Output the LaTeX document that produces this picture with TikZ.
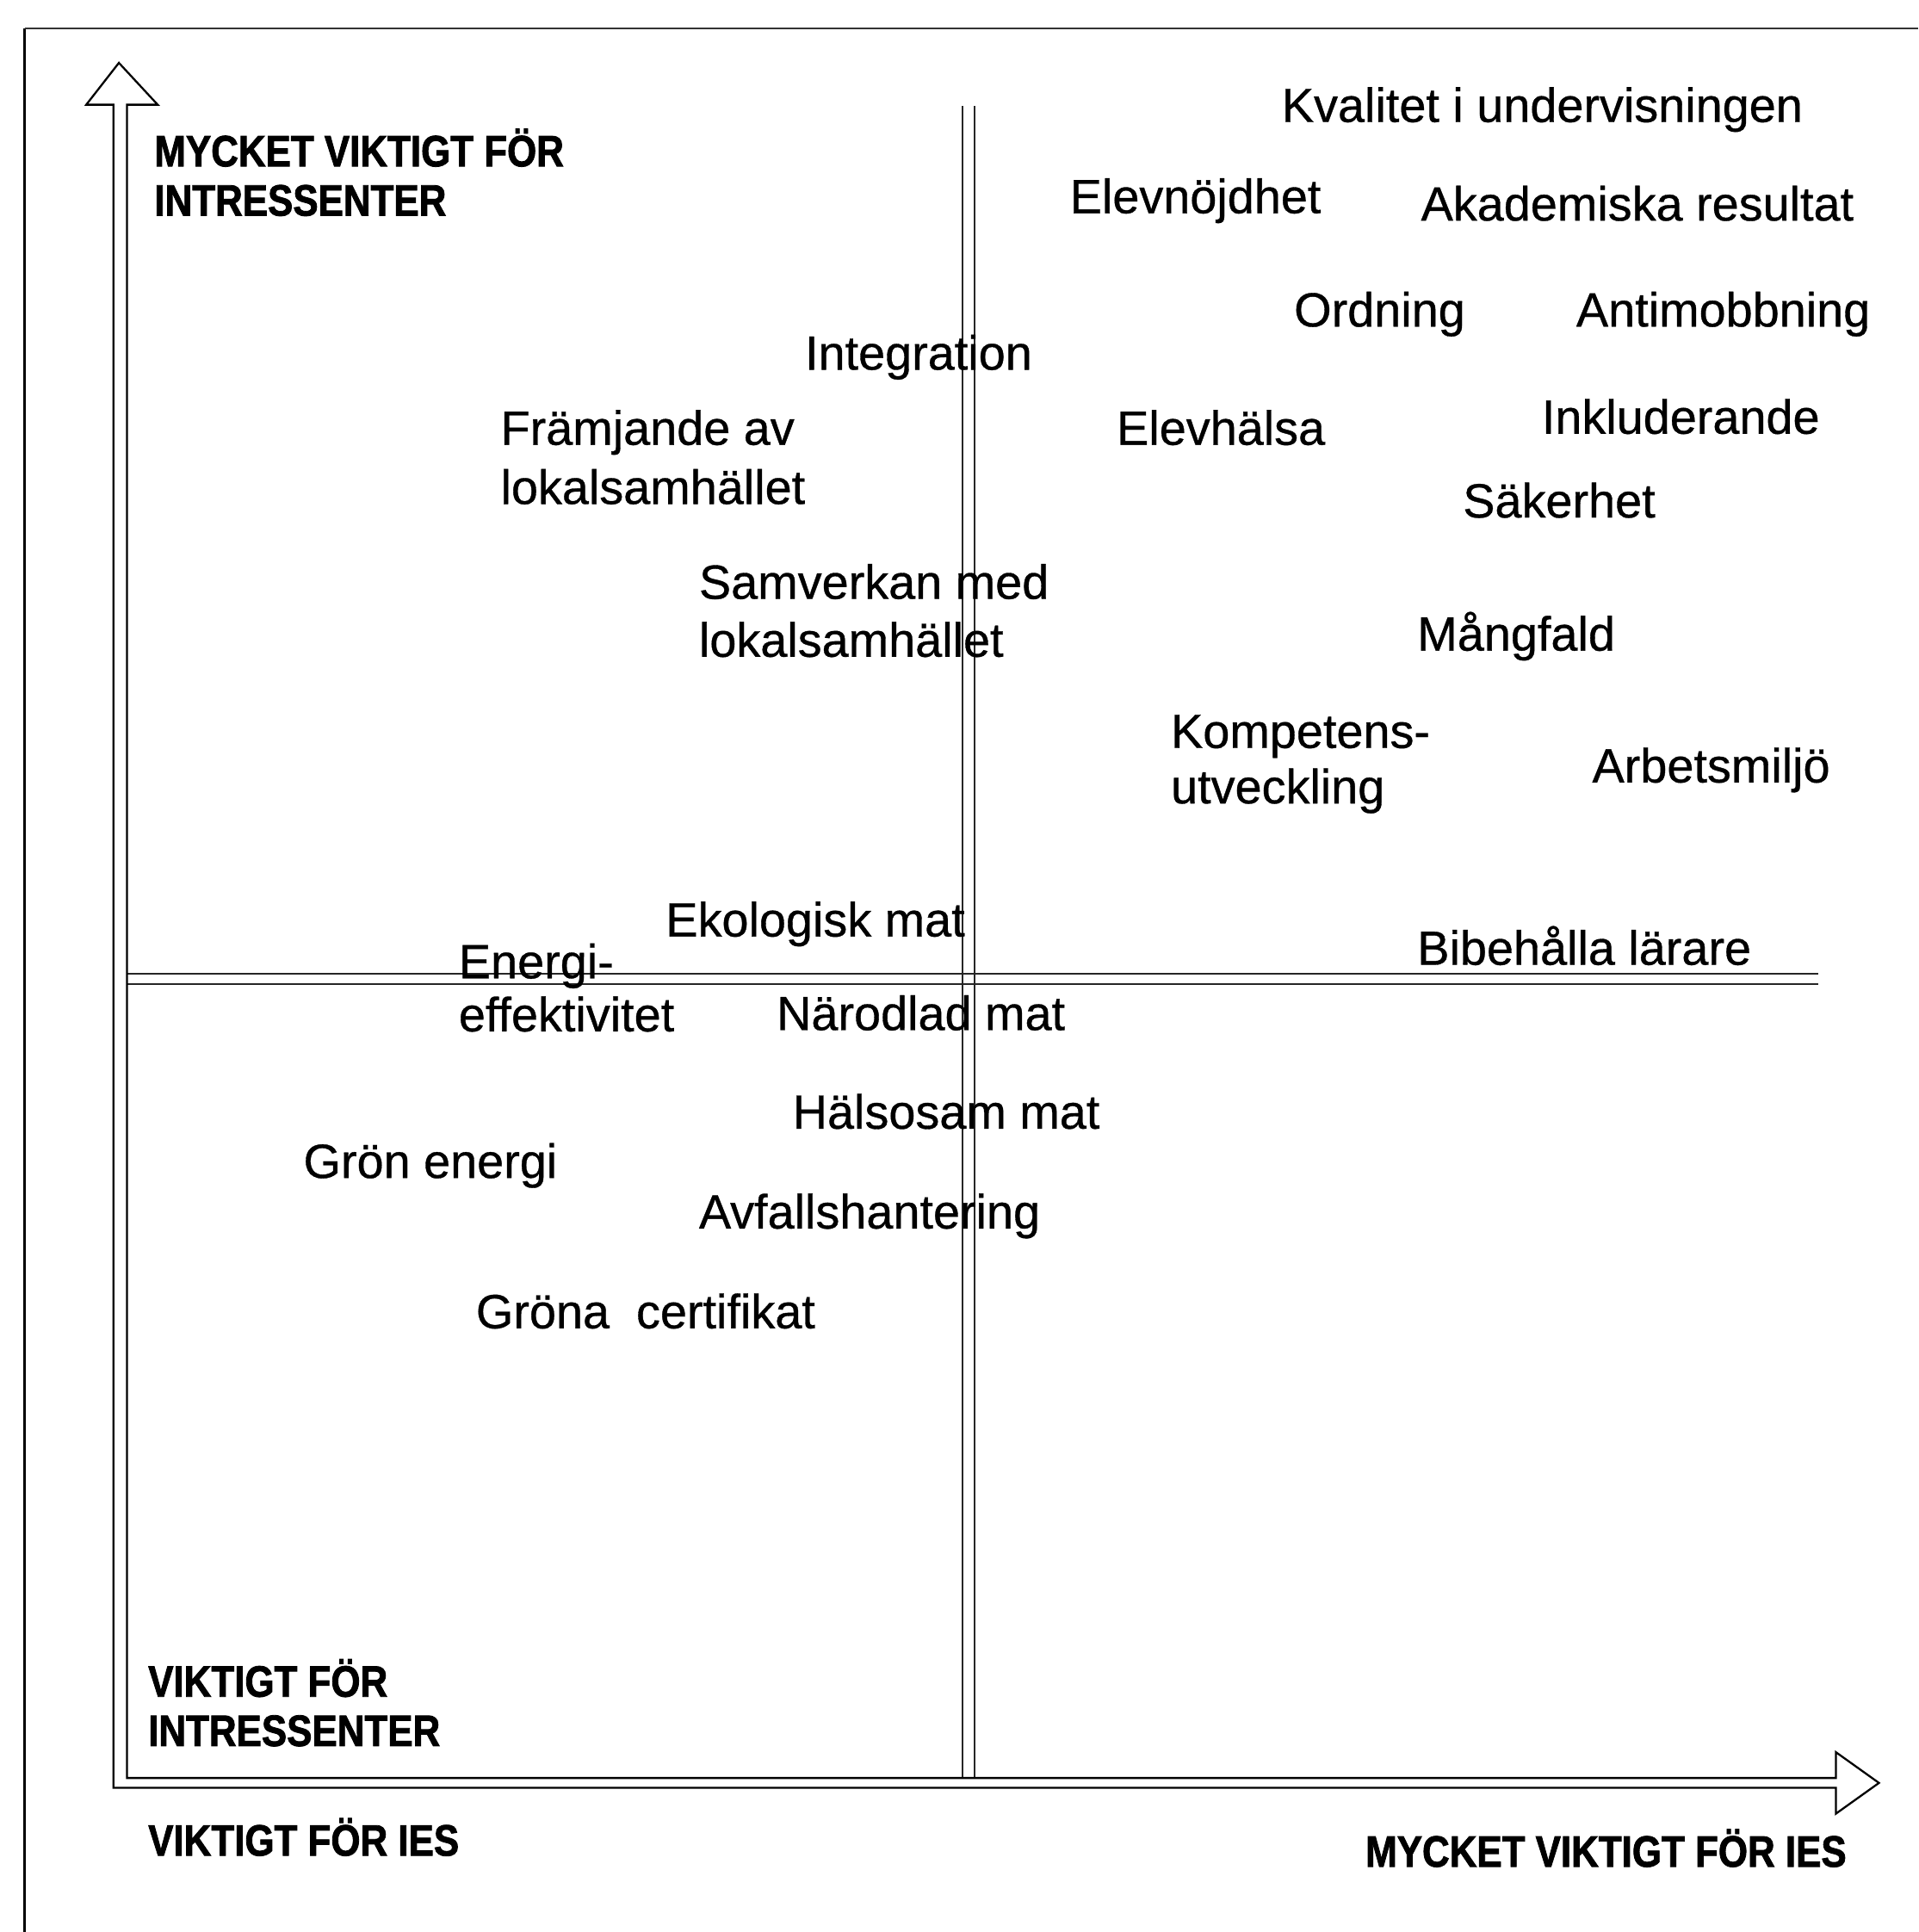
\documentclass[tikz,border=0pt]{standalone}
\usepackage{fontspec}
\setmainfont{Liberation Sans}
\newfontfamily\hdrfont[FakeStretch=0.86,FakeBold=1.6]{Liberation Sans Bold}
\newfontfamily\lblfont[FakeBold=0.6]{Liberation Sans}
\begin{document}
\begin{tikzpicture}[x=0.02cm,y=-0.02cm,
  lbl/.style={anchor=base west,inner sep=0pt,font=\lblfont\fontsize{22.2}{26}\selectfont},
  hdr/.style={anchor=base west,inner sep=0pt,font=\hdrfont\fontsize{20.3}{24}\selectfont},
  frameline/.style={line width=0.45mm},
  topline/.style={line width=0.3mm,black!80},
  axisline/.style={line width=0.32mm,line join=miter},
  divider/.style={line width=0.28mm,black!85}]
\useasboundingbox (0,0) rectangle (1557,1568);
% frame
\coordinate (fTL) at (20,23);
\coordinate (fBL) at (20,1568);
\coordinate (fTR) at (1557,23);
\draw[frameline] (fBL) -- (fTL);
\draw[topline] (fTL) -- (fTR);
% dividers (double lines)
\coordinate (vd1t) at (781,86);  \coordinate (vd1b) at (781,1443);
\coordinate (vd2t) at (791,86);  \coordinate (vd2b) at (791,1443);
\coordinate (hd1l) at (103,790); \coordinate (hd1r) at (1476,790);
\coordinate (hd2l) at (103,799); \coordinate (hd2r) at (1476,799);
\draw[divider] (vd1t) -- (vd1b);
\draw[divider] (vd2t) -- (vd2b);
\draw[divider] (hd1l) -- (hd1r);
\draw[divider] (hd2l) -- (hd2r);
% axes: hollow double-line arrows
\coordinate (ain) at (103,1443);
\coordinate (aout) at (92,1451);
\draw[axisline] (ain) -- (103,85) -- (128,85) -- (96.5,51) -- (70,85) -- (92,85)
  -- (aout) -- (1490,1451) -- (1490,1472) -- (1525,1447) -- (1490,1422) -- (1490,1443) -- cycle;
% axis headers
\node[hdr] (h1a) at (125,135) {MYCKET VIKTIGT FÖR};
\node[hdr] (h1b) at (125,175) {INTRESSENTER};
\node[hdr] (h2a) at (120,1377) {VIKTIGT FÖR};
\node[hdr] (h2b) at (120,1417) {INTRESSENTER};
\node[hdr] (h3) at (120,1506) {VIKTIGT FÖR IES};
\node[hdr] (h4) at (1108,1515) {MYCKET VIKTIGT FÖR IES};
% labels
\node[lbl] (kval) at (1040,99) {Kvalitet i undervisningen};
\node[lbl] (elevn) at (868,173) {Elevnöjdhet};
\node[lbl] (akad) at (1153,179) {Akademiska resultat};
\node[lbl] (ordn) at (1050,265) {Ordning};
\node[lbl] (anti) at (1279,265) {Antimobbning};
\node[lbl] (integ) at (653,300) {Integration};
\node[lbl] (fram1) at (406,361) {Främjande av};
\node[lbl] (fram2) at (406,409) {lokalsamhället};
\node[lbl] (elevh) at (906,361) {Elevhälsa};
\node[lbl] (inkl) at (1251,352) {Inkluderande};
\node[lbl] (saker) at (1187,420) {Säkerhet};
\node[lbl] (samv1) at (567,486) {Samverkan med};
\node[lbl] (samv2) at (567,533) {lokalsamhället};
\node[lbl] (mang) at (1150,528) {Mångfald};
\node[lbl] (komp1) at (950,607) {Kompetens-};
\node[lbl] (komp2) at (950,652) {utveckling};
\node[lbl] (arb) at (1292,635) {Arbetsmiljö};
\node[lbl] (ekol) at (540,760) {Ekologisk mat};
\node[lbl] (energ1) at (372,794) {Energi-};
\node[lbl] (energ2) at (372,837) {effektivitet};
\node[lbl] (bibeh) at (1150,783) {Bibehålla lärare};
\node[lbl] (narod) at (630,836) {Närodlad mat};
\node[lbl] (halso) at (643,916) {Hälsosam mat};
\node[lbl] (gron) at (246,956) {Grön\ energi};
\node[lbl] (avf) at (567,997) {Avfallshantering};
\node[lbl] (grcert) at (386,1078) {Gröna\ \ certifikat};
\end{tikzpicture}
\end{document}
